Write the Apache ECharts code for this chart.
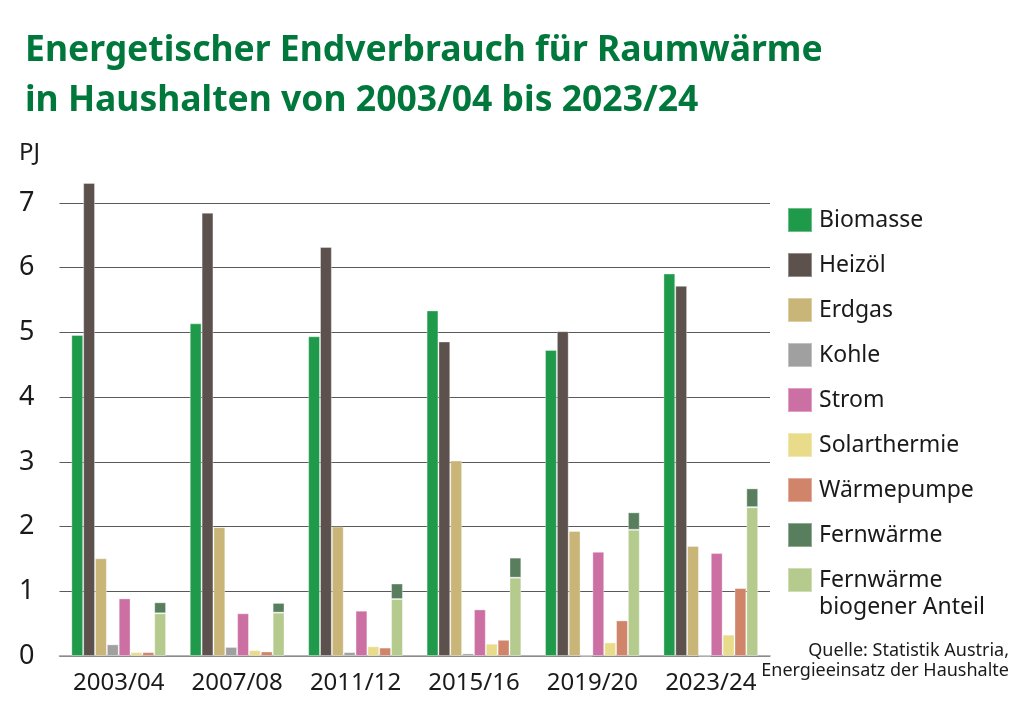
<!DOCTYPE html>
<html>
<head>
<meta charset="utf-8">
<script src="https://cdn.jsdelivr.net/npm/echarts@6/dist/echarts.min.js"></script>
<style>
  html, body { margin: 0; padding: 0; background: #fff; }
  #chart { width: 1033px; height: 709px; }
</style>
</head>
<body>
<div id="chart"></div>
<script>
var periods = ['2003/04', '2007/08', '2011/12', '2015/16', '2019/20', '2023/24'];

var biomasse     = [4.96, 5.14, 4.94, 5.34, 4.73, 5.91];
var heizoel      = [7.31, 6.85, 6.32, 4.86, 5.02, 5.72];
var erdgas       = [1.51, 1.99, 2.00, 3.02, 1.93, 1.70];
var kohle        = [0.18, 0.14, 0.06, 0.04, 0, 0];
var strom        = [0.89, 0.66, 0.70, 0.72, 1.61, 1.59];
var solarthermie = [0.06, 0.09, 0.15, 0.19, 0.21, 0.33];
var waermepumpe  = [0.06, 0.07, 0.13, 0.25, 0.55, 1.05];
// Fernwärme gesamt und davon biogener Anteil
var fernwaermeGesamt = [0.83, 0.82, 1.12, 1.52, 2.22, 2.59];
var fernwaermeBiogen = [0.66, 0.67, 0.88, 1.21, 1.95, 2.30];

var yTicks = [0, 1, 2, 3, 4, 5, 6, 7];

var fernwaermeRest = fernwaermeGesamt.map(function(v, i) {
    return +(v - fernwaermeBiogen[i]).toFixed(2);
});

var font = '"Noto Sans", "Open Sans", sans-serif';
var bioName = 'Fernwärme biogener Anteil';

function bar(name, data, color, stack) {
    var s = {
        name: name,
        type: 'bar',
        data: data,
        clip: false,
        barGap: '0%',
        barCategoryGap: '20%',
        itemStyle: {
            color: color,
            borderColor: 'rgba(255,255,255,0.35)',
            borderWidth: 1
        },
        emphasis: { disabled: true }
    };
    if (stack) s.stack = stack;
    return s;
}

var myChart = echarts.init(document.getElementById('chart'));

var option = {
    animation: false,
    backgroundColor: '#fff',
    title: [{
        text: 'Energetischer Endverbrauch für Raumwärme\nin Haushalten von 2003/04 bis 2023/24',
        left: 25,
        top: 26,
        padding: 0,
        textStyle: {
            fontFamily: font,
            fontSize: 35.5,
            fontWeight: 'bold',
            lineHeight: 50,
            color: '#00783c'
        }
    }, {
        text: 'PJ',
        left: 19,
        top: 141,
        padding: 0,
        textStyle: {
            fontFamily: font,
            fontSize: 24,
            fontWeight: 'normal',
            lineHeight: 24,
            color: '#1a1a1a'
        }
    }],
    legend: {
        orient: 'vertical',
        left: 787,
        top: 207,
        padding: 0,
        itemWidth: 24,
        itemHeight: 24,
        itemGap: 19,
        selectedMode: false,
        icon: 'rect',
        textStyle: {
            fontFamily: font,
            fontSize: 23,
            lineHeight: 24,
            color: '#1a1a1a',
            padding: [0, 0, 0, 2]
        },
        formatter: function(name) {
            return name === bioName ? 'Fernwärme' : name;
        },
        data: ['Biomasse', 'Heizöl', 'Erdgas', 'Kohle', 'Strom', 'Solarthermie', 'Wärmepumpe', 'Fernwärme', bioName]
    },
    grid: {
        left: 59.5,
        right: 263,
        top: 203,
        bottom: 53
    },
    xAxis: {
        type: 'category',
        data: periods,
        axisTick: { show: false },
        axisLine: { lineStyle: { color: '#9a9a9a', width: 1.5 } },
        axisLabel: {
            interval: 0,
            fontFamily: font,
            fontSize: 24,
            color: '#1a1a1a',
            margin: 15
        }
    },
    yAxis: {
        type: 'value',
        min: yTicks[0],
        max: yTicks[yTicks.length - 1],
        interval: 1,
        axisLine: { show: false },
        axisTick: { show: false },
        axisLabel: {
            fontFamily: font,
            fontSize: 27,
            color: '#1a1a1a',
            margin: 25
        },
        splitLine: { lineStyle: { color: '#5a5a5a', width: 1.2 } }
    },
    graphic: [{
        type: 'text',
        left: 819,
        top: 596,
        style: {
            text: 'biogener Anteil',
            font: '23px ' + font,
            fill: '#1a1a1a'
        }
    }, {
        type: 'text',
        right: 24,
        top: 641,
        style: {
            text: 'Quelle: Statistik Austria,\nEnergieeinsatz der Haushalte',
            font: '18px ' + font,
            lineHeight: 20,
            textAlign: 'right',
            fill: '#1a1a1a'
        }
    }],
    series: [
        bar('Biomasse', biomasse, '#1e9a4a'),
        bar('Heizöl', heizoel, '#5c514c'),
        bar('Erdgas', erdgas, '#c8b577'),
        bar('Kohle', kohle, '#a0a0a0'),
        bar('Strom', strom, '#cc6fa3'),
        bar('Solarthermie', solarthermie, '#e8dc8a'),
        bar('Wärmepumpe', waermepumpe, '#d0846a'),
        bar(bioName, fernwaermeBiogen, '#b5cb8e', 'fw'),
        bar('Fernwärme', fernwaermeRest, '#587e5e', 'fw')
    ]
};

myChart.setOption(option);
</script>
</body>
</html>
